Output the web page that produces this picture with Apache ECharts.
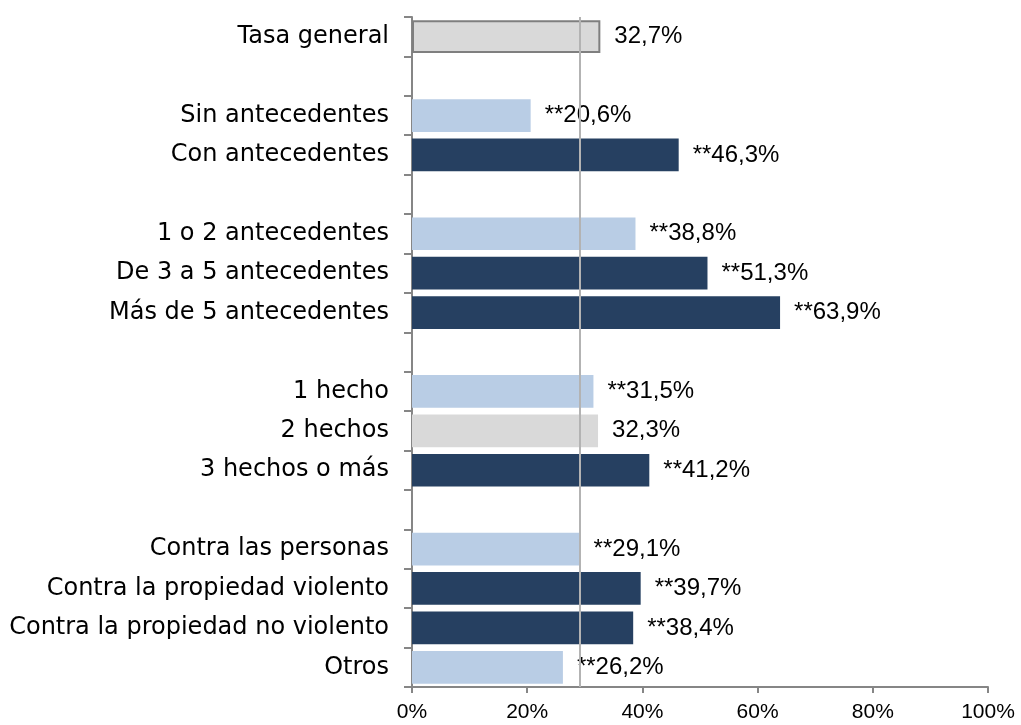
<!DOCTYPE html>
<html>
<head>
<meta charset="utf-8">
<script src="https://cdn.jsdelivr.net/npm/echarts@6/dist/echarts.min.js"></script>
<style>
  html, body { margin: 0; padding: 0; background: #fff; }
  #chart { width: 1021px; height: 725px; }
</style>
</head>
<body>
<div id="chart"></div>
<script>
// categories (blank rows separate the groups)
const categories = [
  'Tasa general', ' ',
  'Sin antecedentes', 'Con antecedentes', '  ',
  '1 o 2 antecedentes', 'De 3 a 5 antecedentes', 'Más de 5 antecedentes', '   ',
  '1 hecho', '2 hechos', '3 hechos o más', '    ',
  'Contra las personas', 'Contra la propiedad violento',
  'Contra la propiedad no violento', 'Otros'
];
const values = [32.7, null, 20.6, 46.3, null, 38.8, 51.3, 63.9, null,
  31.5, 32.3, 41.2, null, 29.1, 39.7, 38.4, 26.2];
// ** = significant difference
const significant = [false, false, true, true, false, true, true, true, false,
  true, false, true, false, true, true, true, true];
// tone of each bar: total / below / above / neutral
const tones = ['total', '', 'below', 'above', '', 'below', 'above', 'above', '',
  'below', 'neutral', 'above', '', 'below', 'above', 'above', 'below'];
const referenceLine = 29.2;
const xTicks = [0, 20, 40, 60, 80, 100];

const toneStyle = {
  total: { color: '#d9d9d9', borderColor: '#7f7f7f', borderWidth: 2 },
  below: { color: '#b9cde5' },
  above: { color: '#264061' },
  neutral: { color: '#d9d9d9' }
};

const chart = echarts.init(document.getElementById('chart'));
const arial = 'Liberation Sans, Arial, sans-serif';

chart.setOption({
  animation: false,
  grid: { left: 412, right: 33, top: 17, bottom: 38, containLabel: false },
  xAxis: {
    type: 'value',
    min: xTicks[0],
    max: xTicks[xTicks.length - 1],
    interval: 20,
    splitLine: { show: false },
    axisLine: { show: true, lineStyle: { color: '#868686', width: 2 } },
    axisTick: { show: true, length: 6, lineStyle: { color: '#868686', width: 2 } },
    axisLabel: {
      formatter: v => v + '%',
      color: '#000', fontFamily: arial, fontSize: 21, margin: 15
    }
  },
  yAxis: {
    type: 'category',
    inverse: true,
    data: categories,
    axisLine: { show: true, lineStyle: { color: '#868686', width: 2 } },
    axisTick: { show: true, length: 8, lineStyle: { color: '#868686', width: 2 } },
    axisLabel: { color: '#000', fontFamily: 'DejaVu Sans', fontSize: 24, margin: 23 }
  },
  series: [{
    type: 'bar',
    barCategoryGap: '17%',
    data: values.map((v, i) => ({
      value: v,
      itemStyle: toneStyle[tones[i]] || {}
    })),
    label: {
      show: true,
      position: 'right',
      distance: 14,
      color: '#000',
      fontFamily: arial,
      fontSize: 24,
      formatter: p => p.value == null ? '' :
        (significant[p.dataIndex] ? '**' : '') + p.value.toFixed(1).replace('.', ',') + '%'
    },
    markLine: {
      silent: true,
      symbol: 'none',
      label: { show: false },
      lineStyle: { color: '#b3b3b3', width: 2, type: 'solid' },
      data: [{ xAxis: referenceLine }]
    }
  }]
});
</script>
</body>
</html>
